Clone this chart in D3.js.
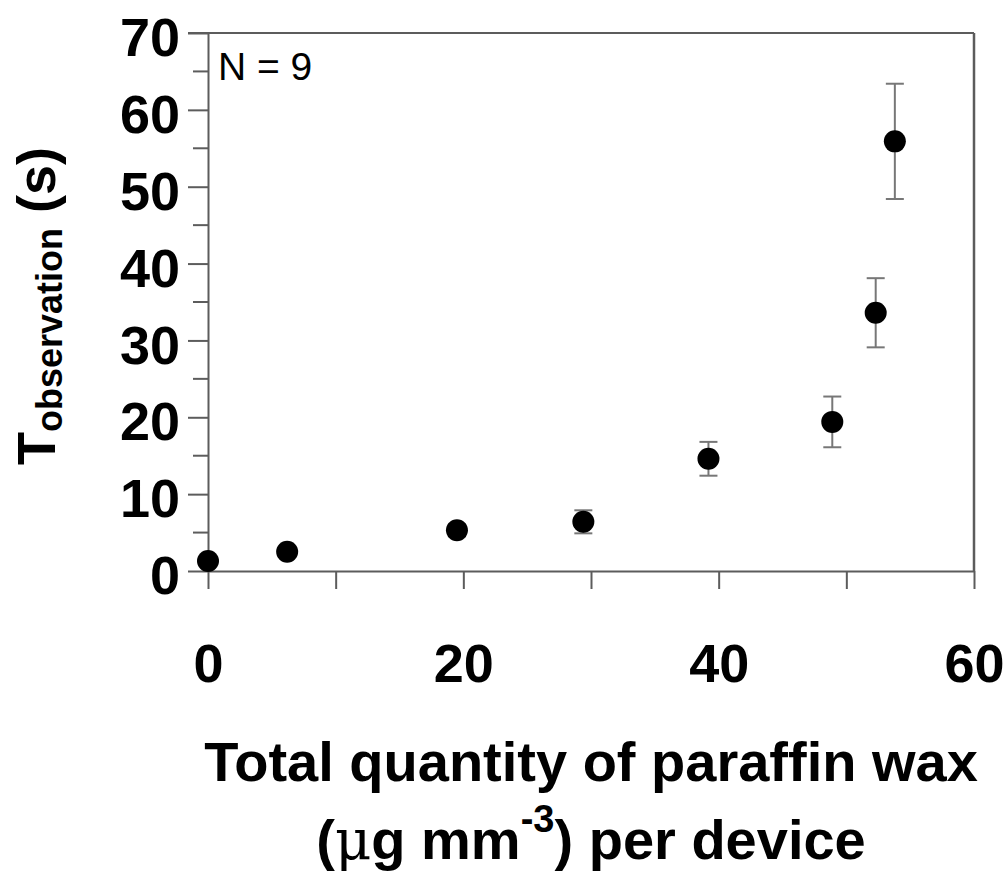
<!DOCTYPE html>
<head>
    <style>
        body { margin: 0; background: #fff; }
        svg { background-color: #fff; font-family: "Liberation Sans", Arial, sans-serif; }
    </style>
</head>
<body>
    <script src="https://d3js.org/d3.v7.min.js"></script>
    <script>
        const w = 1006, h = 873;
        const margin = {left: 208, right: 32, top: 33, bottom: 302};

        // wax quantity (ug mm^-3) vs observation time (s), N = 9
        const waxQty   = [0, 6.2, 19.5, 29.4, 39.2, 48.9, 52.3, 53.8];
        const tObs     = [1.3, 2.5, 5.3, 6.4, 14.6, 19.4, 33.6, 55.9];
        const tErr     = [0.5, 0.6, 0.8, 1.5, 2.2, 3.3, 4.5, 7.5];
        const xTicks   = [0, 10, 20, 30, 40, 50, 60];
        const xLabels  = ['0', '', '20', '', '40', '', '60'];
        const yTicks   = [0, 10, 20, 30, 40, 50, 60, 70];
        const yMinor   = [5, 15, 25, 35, 45, 55, 65];

        const axisCol = '#5c5c5c';
        const pts = waxQty.map((d, i) => ({x: d, y: tObs[i], e: tErr[i]}));

        const svg = d3.select('body')
                      .append('svg')
                      .attr('width', w)
                      .attr('height', h);

        const x = d3.scaleLinear().domain([0, 60]).range([margin.left, w - margin.right]);
        const y = d3.scaleLinear().domain([0, 70]).range([h - margin.bottom, margin.top]);

        // frame: top and right border
        svg.append('line')
           .attr('x1', margin.left - 20).attr('x2', x(60))
           .attr('y1', y(70)).attr('y2', y(70))
           .attr('stroke', axisCol).attr('stroke-width', 2);
        svg.append('line')
           .attr('x1', x(60)).attr('x2', x(60))
           .attr('y1', y(70)).attr('y2', y(0))
           .attr('stroke', axisCol).attr('stroke-width', 2.5);

        // minor y ticks
        svg.selectAll('.minor')
           .data(yMinor)
           .enter()
           .append('line')
           .attr('class', 'minor')
           .attr('x1', margin.left - 15).attr('x2', margin.left)
           .attr('y1', d => y(d)).attr('y2', d => y(d))
           .attr('stroke', axisCol).attr('stroke-width', 2);

        const yAxis = svg.append('g')
           .attr('transform', `translate(${margin.left},0)`)
           .call(d3.axisLeft(y).tickValues(yTicks).tickSize(20).tickSizeOuter(0).tickPadding(8));

        const xAxis = svg.append('g')
           .attr('transform', `translate(0,${y(0)})`)
           .call(d3.axisBottom(x).tickValues(xTicks).tickSize(18).tickSizeOuter(0)
                   .tickFormat((d, i) => xLabels[i]));

        [yAxis, xAxis].forEach(g => {
            g.select('.domain').attr('stroke', axisCol).attr('stroke-width', 2);
            g.selectAll('.tick line').attr('stroke', axisCol).attr('stroke-width', 2);
            g.selectAll('text')
             .attr('fill', '#000')
             .style('font-family', '"Liberation Sans", Arial, sans-serif')
             .style('font-weight', 'bold')
             .style('font-size', '54px');
        });
        yAxis.selectAll('text').attr('dy', '0.42em');
        xAxis.selectAll('text').attr('y', 111).attr('dy', 0);

        // error bars
        const eb = svg.append('g')
           .attr('stroke', '#777')
           .attr('stroke-width', 2);
        eb.selectAll('.stem')
          .data(pts)
          .enter()
          .append('line')
          .attr('x1', d => x(d.x)).attr('x2', d => x(d.x))
          .attr('y1', d => y(d.y - d.e)).attr('y2', d => y(d.y + d.e));
        eb.selectAll('.cap')
          .data(pts.flatMap(d => [{x: d.x, v: d.y - d.e}, {x: d.x, v: d.y + d.e}]))
          .enter()
          .append('line')
          .attr('x1', d => x(d.x) - 9).attr('x2', d => x(d.x) + 9)
          .attr('y1', d => y(d.v)).attr('y2', d => y(d.v));

        svg.selectAll('circle')
           .data(pts)
           .enter()
           .append('circle')
           .attr('cx', d => x(d.x))
           .attr('cy', d => y(d.y))
           .attr('r', 11)
           .attr('fill', '#000');

        // annotations
        svg.append('text')
           .attr('x', 218).attr('y', 80)
           .style('font-size', '39px')
           .text('N = 9');

        const yTitle = svg.append('text')
           .attr('transform', 'translate(55,465) rotate(-90)')
           .style('font-weight', 'bold')
           .style('font-size', '54px');
        yTitle.append('tspan').text('T');
        yTitle.append('tspan').attr('dy', 7).style('font-size', '36px').text('observation');
        yTitle.append('tspan').attr('dy', -7).text(' (s)');

        const cx = (x(0) + x(60)) / 2;
        svg.append('text')
           .attr('x', cx).attr('y', 781)
           .attr('text-anchor', 'middle')
           .style('font-weight', 'bold')
           .style('font-size', '56px')
           .text('Total quantity of paraffin wax');

        const l2 = svg.append('text')
           .attr('x', cx).attr('y', 859)
           .attr('text-anchor', 'middle')
           .style('font-weight', 'bold')
           .style('font-size', '56px');
        l2.append('tspan').text('(');
        l2.append('tspan').style('font-weight', 'normal').style('font-family', '"DejaVu Serif", serif').text('\u03bc');
        l2.append('tspan').text('g mm');
        l2.append('tspan').attr('dy', -27).style('font-size', '38px').text('-3');
        l2.append('tspan').attr('dy', 27).text(') per device');
    </script>
</body>
